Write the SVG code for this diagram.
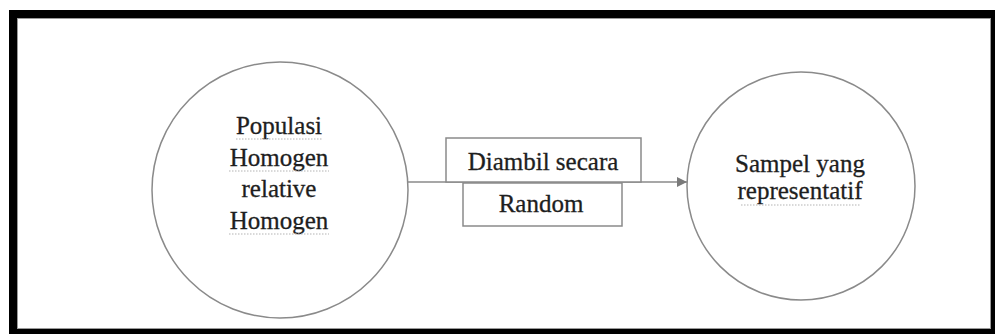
<svg xmlns="http://www.w3.org/2000/svg" width="995" height="334" viewBox="0 0 995 334">
  <defs>
    <style>
      .node { fill: #ffffff; stroke: #8a8a8a; stroke-width: 1.5; }
      .box { fill: #ffffff; stroke: #8a8a8a; stroke-width: 1.5; }
      .lbl { font-family: "Liberation Serif", "Times New Roman", serif; font-size: 25px; fill: #1e1e1e; stroke: #1e1e1e; stroke-width: 0.3; text-anchor: middle; }
      .edge { stroke: #8a8a8a; stroke-width: 1.5; fill: none; }
      .squig { stroke: #b4b4b4; stroke-width: 1.2; stroke-dasharray: 1.5 1.5; fill: none; }
    </style>
    <marker id="arrow" viewBox="0 0 10 10" refX="10" refY="5" markerWidth="10" markerHeight="10" markerUnits="userSpaceOnUse" orient="auto">
      <path d="M0,0 L10,5 L0,10 Z" fill="#7a7a7a"/>
    </marker>
  </defs>
  <rect x="0" y="0" width="995" height="334" fill="#ffffff"/>
  <rect id="frame" x="13" y="14" width="982" height="319" fill="#ffffff" stroke="#000000" stroke-width="8"/>
  <rect x="17.5" y="18.5" width="973" height="310" fill="none" stroke="#9a9a9a" stroke-width="1"/>

  <g id="connectors">
    <line class="edge" x1="408" y1="182" x2="687" y2="182" marker-end="url(#arrow)"/>
  </g>

  <g id="populasi">
    <circle class="node" cx="280" cy="190" r="128"/>
    <text class="lbl" x="279" y="134">Populasi</text>
    <text class="lbl" x="279" y="166">Homogen</text>
    <text class="lbl" x="279" y="197">relative</text>
    <text class="lbl" x="279" y="229">Homogen</text>
    <line class="squig" x1="236" y1="139" x2="323" y2="139"/>
    <line class="squig" x1="229" y1="171" x2="329" y2="171"/>
    <line class="squig" x1="229" y1="234" x2="329" y2="234"/>
  </g>

  <g id="label-diambil">
    <rect class="box" x="446" y="138" width="195" height="44"/>
    <text class="lbl" x="543" y="170">Diambil secara</text>
  </g>

  <g id="label-random">
    <rect class="box" x="463" y="183" width="159" height="43"/>
    <text class="lbl" x="541" y="212">Random</text>
  </g>

  <g id="sampel">
    <circle class="node" cx="801" cy="186" r="114"/>
    <text class="lbl" x="800" y="172">Sampel yang</text>
    <text class="lbl" x="800" y="199">representatif</text>
    <line class="squig" x1="741" y1="205" x2="860" y2="205"/>
  </g>
</svg>
